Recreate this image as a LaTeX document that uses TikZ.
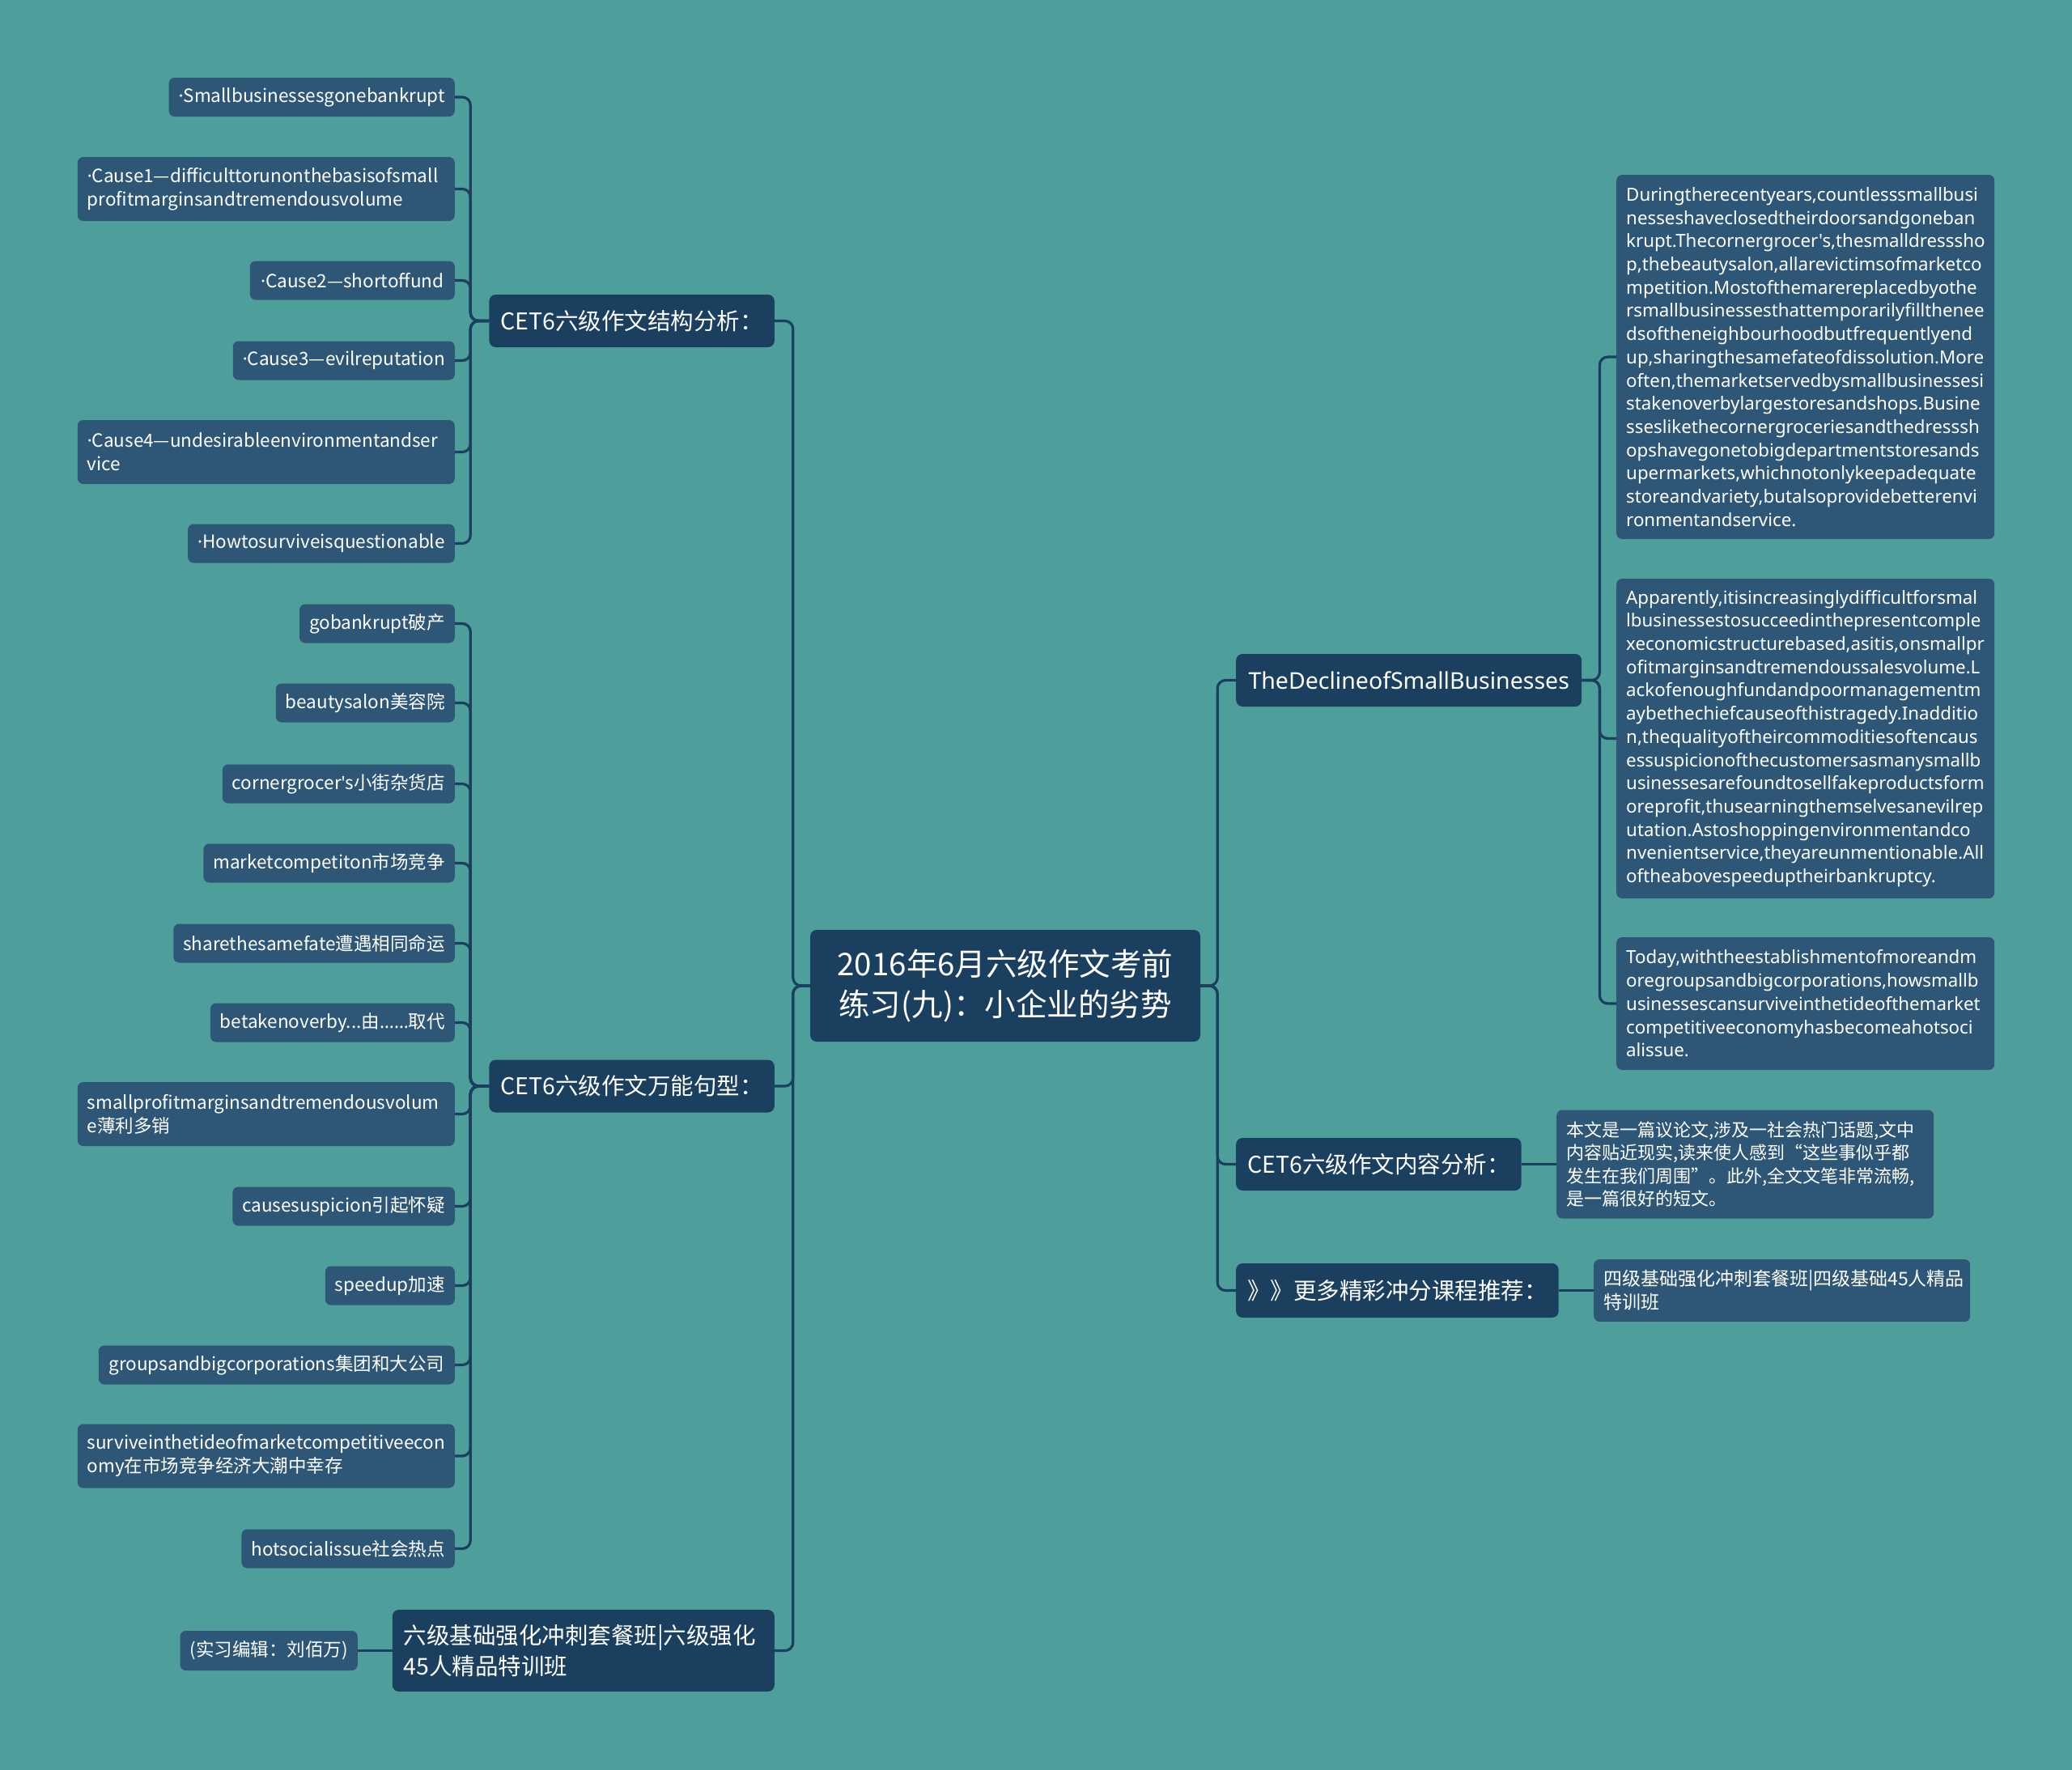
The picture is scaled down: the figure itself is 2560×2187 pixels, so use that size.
\documentclass[tikz,border=0pt]{standalone}
\usepackage{fontspec}
\setmainfont{Noto Sans CJK SC}
\newfontfamily\wide{Noto Sans}
\usepackage{tikz}
\definecolor{canvas}{HTML}{4E9E9C}
\definecolor{deep}{HTML}{1A3F5F}
\definecolor{leafc}{HTML}{2E5777}
\definecolor{wire}{HTML}{1A3F5F}
\tikzset{
  topic/.style ={fill=deep, rounded corners=8pt, text=white, align=center, inner sep=0pt,
                 font=\fontsize{38.5}{50}\selectfont},
  main/.style  ={fill=deep, rounded corners=8pt, text=white, inner xsep=14pt, inner ysep=0pt,
                 minimum height=65pt, font=\fontsize{28.5}{37.5}\selectfont},
  leaf/.style  ={fill=leafc, rounded corners=7pt, text=white, inner xsep=12pt, inner ysep=0pt,
                 minimum height=48pt, font=\fontsize{22.5}{29}\selectfont},
  two/.style   ={leaf, text width=442pt, align=left, minimum height=79pt},
  para/.style  ={leaf, text width=443pt, align=left, font=\wide\fontsize{22.3}{28.7}\selectfont},
  ln/.style    ={draw=wire, line width=3.2pt, rounded corners=10pt},
}
\newcommand{\dotmark}{{\wide ·}}
\newcommand{\apos}{{\wide '}}

\begin{document}
\begin{tikzpicture}[x=1pt,y=-1pt]
  \useasboundingbox (0,0) rectangle (2560,2187);
  \fill[canvas] (0,0) rectangle (2560,2187);
  \def\lx{562}
  \node[topic, minimum width=482pt, minimum height=138pt] (t0) at (1242,1218)
        {2016年6月六级作文考前\\练习(九)：小企业的劣势};
  % left half
  \node[main, anchor=east, minimum width=351pt] (m1) at (957,396.5) {CET6六级作文结构分析：};
  \node[main, anchor=east, minimum width=351pt] (m2) at (957,1342) {CET6六级作文万能句型：};
  \node[main, anchor=east, text width=444pt, align=left, minimum height=101pt] (m3) at (957,2039.5)
        {六级基础强化冲刺套餐班|六级强化\\45人精品特训班};
  \node[leaf, anchor=east, minimum width=213pt, minimum height=49pt] (c1) at (442,2039.5) {(实习编辑：刘佰万)};
  \node[leaf, anchor=east, minimum width=350pt] (a1) at (\lx,120) {\dotmark Smallbusinessesgonebankrupt};
  \node[two,  anchor=east] (a2) at (\lx,233.5) {\mbox{\dotmark Cause1—difficulttorunonthebasisofsmall}\\profitmarginsandtremendousvolume};
  \node[leaf, anchor=east, minimum width=253pt] (a3) at (\lx,346.5) {\dotmark Cause2—shortoffund};
  \node[leaf, anchor=east, minimum width=273pt] (a4) at (\lx,445.5) {\dotmark Cause3—evilreputation};
  \node[two,  anchor=east] (a5) at (\lx,558.5) {\mbox{\dotmark Cause4—undesirableenvironmentandser}\\vice};
  \node[leaf, anchor=east, minimum width=325pt] (a6) at (\lx,671.5) {\dotmark Howtosurviveisquestionable};
  \node[leaf, anchor=east, minimum width=190pt] (b1) at (\lx,770.5) {gobankrupt破产};
  \node[leaf, anchor=east, minimum width=218pt] (b2) at (\lx,868.5) {beautysalon美容院};
  \node[leaf, anchor=east, minimum width=286pt] (b3) at (\lx,968.5) {cornergrocer\apos s小街杂货店};
  \node[leaf, anchor=east, minimum width=307pt] (b4) at (\lx,1066.5) {marketcompetiton市场竞争};
  \node[leaf, anchor=east, minimum width=343pt] (b5) at (\lx,1165.5) {sharethesamefate遭遇相同命运};
  \node[leaf, anchor=east, minimum width=299pt] (b6) at (\lx,1263.5) {betakenoverby...由{\wide ……}取代};
  \node[two,  anchor=east] (b7) at (\lx,1376.5) {smallprofitmarginsandtremendousvolum\\e薄利多销};
  \node[leaf, anchor=east, minimum width=270pt] (b8) at (\lx,1490.5) {causesuspicion引起怀疑};
  \node[leaf, anchor=east, minimum width=160pt] (b9) at (\lx,1588.5) {speedup加速};
  \node[leaf, anchor=east, minimum width=440pt] (b10) at (\lx,1686.5) {groupsandbigcorporations集团和大公司};
  \node[two,  anchor=east] (b11) at (\lx,1799) {surviveinthetideofmarketcompetitiveecon\\omy在市场竞争经济大潮中幸存};
  \node[leaf, anchor=east, minimum width=258pt] (b12) at (\lx,1913.5) {hotsocialissue社会热点};
  % right half
  \node[main, anchor=west, minimum width=427pt, font=\wide\fontsize{28.5}{30}\selectfont] (m4) at (1527,840.5)
        {TheDeclineofSmallBusinesses};
  \node[main, anchor=west, minimum width=352pt] (m5) at (1527,1438.5) {CET6六级作文内容分析：};
  \node[main, anchor=west, minimum width=398pt, minimum height=67pt] (m6) at (1527,1594.5) {》》更多精彩冲分课程推荐：};
  \node[para, anchor=west, minimum height=450pt] (p1) at (1997,441)
        {Duringtherecentyears,countlesssmallbusi\\nesseshaveclosedtheirdoorsandgoneban\\krupt.Thecornergrocer's,thesmalldresssho\\p,thebeautysalon,allarevictimsofmarketco\\mpetition.Mostofthemarereplacedbyothe\\rsmallbusinessesthattemporarilyfillthenee\\dsoftheneighbourhoodbutfrequentlyend\\up,sharingthesamefateofdissolution.More\\often,themarketservedbysmallbusinessesi\\stakenoverbylargestoresandshops.Busine\\sseslikethecornergroceriesandthedresssh\\opshavegonetobigdepartmentstoresands\\upermarkets,whichnotonlykeepadequate\\storeandvariety,butalsoprovidebetterenvi\\ronmentandservice.};
  \node[para, anchor=west, minimum height=395pt] (p2) at (1997,912.5)
        {Apparently,itisincreasinglydifficultforsmal\\lbusinessestosucceedinthepresentcomple\\xeconomicstructurebased,asitis,onsmallpr\\ofitmarginsandtremendoussalesvolume.L\\ackofenoughfundandpoormanagementm\\aybethechiefcauseofthistragedy.Inadditio\\n,thequalityoftheircommoditiesoftencaus\\essuspicionofthecustomersasmanysmallb\\usinessesarefoundtosellfakeproductsform\\oreprofit,thusearningthemselvesanevilrep\\utation.Astoshoppingenvironmentandco\\nvenientservice,theyareunmentionable.All\\oftheabovespeeduptheirbankruptcy.};
  \node[para, anchor=west, minimum height=164pt] (p3) at (1997,1240)
        {Today,withtheestablishmentofmoreandm\\oregroupsandbigcorporations,howsmallb\\usinessescansurviveinthetideofthemarket\\competitiveeconomyhasbecomeahotsoci\\alissue.};
  \node[leaf, anchor=west, text width=442pt, align=left, minimum height=134pt, font=\fontsize{22}{28.3}\selectfont] (q1) at (1923,1438.5)
        {本文是一篇议论文,涉及一社会热门话题,文中\\内容贴近现实,读来使人感到“这些事似乎都\\发生在我们周围”。此外,全文文笔非常流畅,\\是一篇很好的短文。};
  \node[leaf, anchor=west, text width=441pt, align=left, minimum height=77pt, font=\fontsize{23}{29.4}\selectfont] (q2) at (1969,1594.5)
        {四级基础强化冲刺套餐班|四级基础45人精品\\特训班};
  % branches
  \draw[ln] (t0.west) -- ++(-21,0) |- (m1.east);
  \draw[ln] (t0.west) -- ++(-21,0) |- (m2.east);
  \draw[ln] (t0.west) -- ++(-21,0) |- (m3.east);
  \draw[ln] (t0.east) -- ++(21,0) |- (m4.west);
  \draw[ln] (t0.east) -- ++(21,0) |- (m5.west);
  \draw[ln] (t0.east) -- ++(21,0) |- (m6.west);
  \draw[ln] (m3.west) -- (c1.east);
  \draw[ln] (m1.west) -- ++(-23,0) |- (a1.east);
  \draw[ln] (m1.west) -- ++(-23,0) |- (a2.east);
  \draw[ln] (m1.west) -- ++(-23,0) |- (a3.east);
  \draw[ln] (m1.west) -- ++(-23,0) |- (a4.east);
  \draw[ln] (m1.west) -- ++(-23,0) |- (a5.east);
  \draw[ln] (m1.west) -- ++(-23,0) |- (a6.east);
  \draw[ln] (m2.west) -- ++(-23,0) |- (b1.east);
  \draw[ln] (m2.west) -- ++(-23,0) |- (b2.east);
  \draw[ln] (m2.west) -- ++(-23,0) |- (b3.east);
  \draw[ln] (m2.west) -- ++(-23,0) |- (b4.east);
  \draw[ln] (m2.west) -- ++(-23,0) |- (b5.east);
  \draw[ln] (m2.west) -- ++(-23,0) |- (b6.east);
  \draw[ln] (m2.west) -- ++(-23,0) |- (b7.east);
  \draw[ln] (m2.west) -- ++(-23,0) |- (b8.east);
  \draw[ln] (m2.west) -- ++(-23,0) |- (b9.east);
  \draw[ln] (m2.west) -- ++(-23,0) |- (b10.east);
  \draw[ln] (m2.west) -- ++(-23,0) |- (b11.east);
  \draw[ln] (m2.west) -- ++(-23,0) |- (b12.east);
  \draw[ln] (m4.east) -- ++(22,0) |- (p1.west);
  \draw[ln] (m4.east) -- ++(22,0) |- (p2.west);
  \draw[ln] (m4.east) -- ++(22,0) |- (p3.west);
  \draw[ln] (m5.east) -- (q1.west);
  \draw[ln] (m6.east) -- (q2.west);
\end{tikzpicture}
\end{document}
